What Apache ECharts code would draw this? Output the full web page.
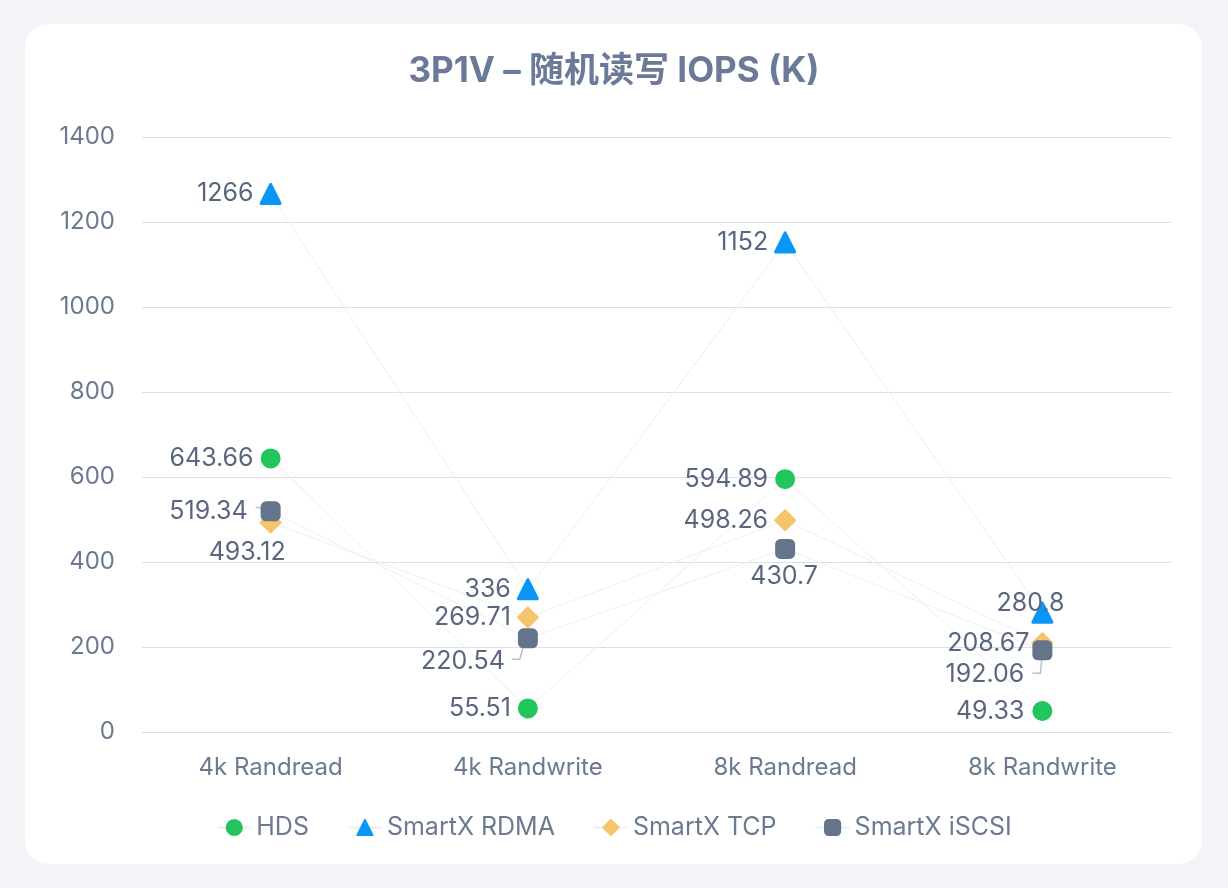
<!DOCTYPE html>
<html><head><meta charset="utf-8">
<script src="https://cdn.jsdelivr.net/npm/echarts@6/dist/echarts.min.js"></script>
<style>
html,body{margin:0;padding:0;width:1228px;height:888px;background:#f3f4f8;overflow:hidden;}
#card{position:absolute;left:25px;top:24px;width:1177px;height:840px;background:#fff;border-radius:24px;}
#chart{position:absolute;left:0;top:0;width:1228px;height:888px;}
</style></head>
<body><div id="card"></div><div id="chart"></div>
<script>
const categories = ['4k Randread','4k Randwrite','8k Randread','8k Randwrite'];
const hds = [643.66, 55.51, 594.89, 49.33];
const rdma = [1266, 336, 1152, 280.8];
const tcp = [493.12, 269.71, 498.26, 208.67];
const iscsi = [519.34, 220.54, 430.7, 192.06];
const seriesNames = ['HDS','SmartX RDMA','SmartX TCP','SmartX iSCSI'];

// label placement (layout only): [dx of right edge / centre, dy, mode] relative to symbol centre
const labelPlacement = [
  [[-17,0,'r'],[-17,0,'r'],[-17,0,'r'],[-18,0,'r']],
  [[-17,0,'r'],[-17,0,'r'],[-17,0,'r'],[22,-9,'r']],
  [[15,30,'r'],[-17,0,'r'],[-17,0,'r'],[-13,0,'r']],
  [[-23,0,'r'],[-23,23,'r'],[-1,28,'c'],[-18,24,'r']]
];
// leader lines for the iSCSI labels (offsets from symbol centre; layout only)
const leaderShapes = {
  0: [[-15,-4],[-7,-3],[0,0]],
  1: [[-16,21],[-8,21],[-3,2]],
  3: [[-10,23],[-2,23],[0,3]]
};

const FONT = "Inter, 'Noto Sans CJK SC', sans-serif";
const colors = ['#22c55e','#0a96f7','#f5c46b','#64748b'];
const symbols = ['circle','triangle','diamond','roundRect'];
const sizes = [18,19,20,18];
const DIST = 8;
const chart = echarts.init(document.getElementById('chart'), null, {renderer:'canvas'});
const dataSets = [hds, rdma, tcp, iscsi];
chart.setOption({
  backgroundColor:'transparent',
  color: colors,
  title:{text:'3P1V – 随机读写 IOPS (K)', left:'center', top:49,
    textStyle:{fontFamily:FONT, fontSize:35, fontWeight:'bold', color:'#6b7a99'}},
  grid:{left:142, right:57, top:137, bottom:156},
  legend:{bottom:43, left:'center', itemGap:38, itemWidth:34, itemHeight:19,
    textStyle:{fontFamily:FONT, fontSize:25, color:'#6b7a90'}},
  xAxis:{type:'category', data:categories, boundaryGap:true,
    axisLine:{show:true, lineStyle:{color:'#d9dde6'}}, axisTick:{show:false},
    axisLabel:{fontFamily:FONT, fontSize:24, color:'#6b7a90', margin:24}},
  yAxis:{type:'value', min:0, max:1400, interval:200,
    axisLine:{show:false}, axisTick:{show:false},
    splitLine:{lineStyle:{color:'#dcdfe7', width:1}},
    axisLabel:{fontFamily:FONT, fontSize:24, color:'#6b7a90', margin:27, formatter:v=>String(v)}},
  series: dataSets.map((d,i)=>({
    name: seriesNames[i], type:'line', data:d, z: 3,
    symbol: symbols[i], symbolSize: sizes[i],
    lineStyle:{color:'#eceef3', width:1},
    itemStyle:{color:colors[i], borderColor:colors[i], borderWidth:i===1?3:2, borderJoin:'round'},
    label:{show:true, position:'left', distance:DIST, fontFamily:FONT, fontSize:25, color:'#5a6680'},
    labelLine:{show:false},
    labelLayout:function(p){
      const o = labelPlacement[p.seriesIndex][p.dataIndex];
      const half = p.rect.width/2;
      const defRight = -(half + DIST);
      let dx = o[0] - defRight;
      if (o[2] === 'c') dx += p.labelRect.width/2;
      return {dx: dx, dy: o[1]};
    },
    emphasis:{disabled:true}
  }))
});
const leaders = Object.keys(leaderShapes).map(k => {
  const idx = +k;
  const c = chart.convertToPixel({seriesIndex:3}, [idx, iscsi[idx]]);
  return {type:'polyline', z:1, silent:true,
    shape:{points: leaderShapes[k].map(p => [c[0]+p[0], c[1]+p[1]])},
    style:{stroke:'#b8bfcc', lineWidth:1.5, fill:null, lineJoin:'round'}};
});
chart.setOption({graphic: leaders});
</script></body></html>
